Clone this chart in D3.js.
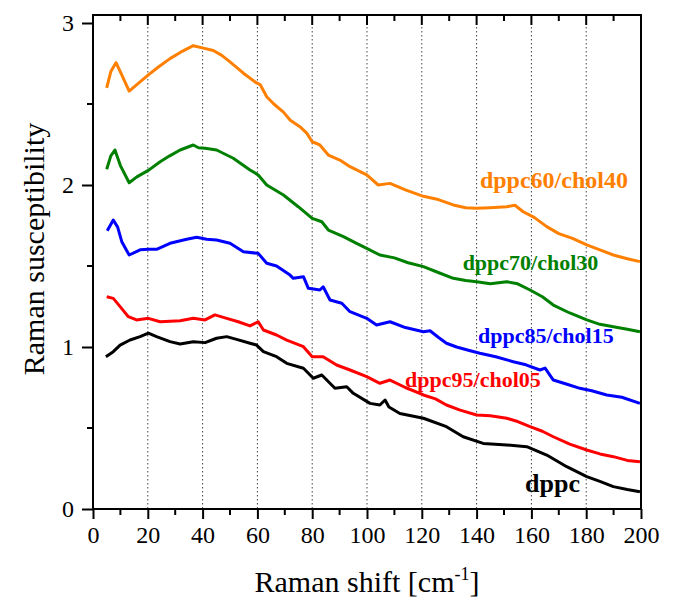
<!DOCTYPE html>
<html>
<head>
<meta charset="utf-8">
<script src="https://cdn.jsdelivr.net/npm/d3@7"></script>
<style>
  html, body { margin: 0; padding: 0; background: #fff; }
  svg { display: block; }
  text { font-family: "Liberation Serif", "Times New Roman", serif; }
</style>
</head>
<body>
<svg id="chart" width="674" height="601"></svg>
<script>
// ---------- data ----------
const xTicks = [0, 20, 40, 60, 80, 100, 120, 140, 160, 180, 200];
const xMinorTicks = [10, 30, 50, 70, 90, 110, 130, 150, 170, 190];
const yTicks = [0, 1, 2, 3];
const yMinorTicks = [0.5, 1.5, 2.5];

const seriesNames = ["dppc60/chol40", "dppc70/chol30", "dppc85/chol15", "dppc95/chol05", "dppc"];
const seriesColors = ["#FF8000", "#008000", "#0000FF", "#FF0000", "#000000"];

const shiftChol40 = [5, 6.5, 8.4, 10.5, 13.2, 16, 20.2, 24, 28.1, 32, 36.6, 40.3, 43.9, 47, 50, 54.9, 59.7, 61, 63.4, 66, 69.5, 72, 75.5, 78, 80, 82.8, 85.9, 90.1, 93.8, 99.9, 104.1, 108.4, 114, 120.6, 126, 131.5, 136, 140, 145, 151, 154, 157, 161, 165.6, 170, 175, 180.2, 185, 189.9, 195, 199.6];
const chiChol40 = [2.60, 2.70, 2.755, 2.68, 2.58, 2.62, 2.68, 2.73, 2.78, 2.82, 2.86, 2.845, 2.83, 2.80, 2.76, 2.69, 2.63, 2.62, 2.545, 2.50, 2.45, 2.40, 2.36, 2.32, 2.267, 2.247, 2.185, 2.154, 2.113, 2.062, 2.0, 2.01, 1.97, 1.93, 1.91, 1.877, 1.86, 1.856, 1.86, 1.866, 1.875, 1.835, 1.80, 1.743, 1.70, 1.67, 1.63, 1.60, 1.568, 1.545, 1.527];

const shiftChol30 = [5, 6.5, 8, 10, 13.2, 16, 20.2, 24.5, 28, 31.8, 36.6, 38.5, 40.9, 45.1, 51.2, 57.3, 60.3, 63.4, 69.5, 74.9, 80, 83.5, 85.9, 91.4, 96.2, 99.9, 104.7, 110, 115, 120.6, 126, 131.5, 136, 140, 145, 151, 155, 159.5, 164, 168, 174, 180.2, 185, 189.9, 195, 199.6];
const chiChol30 = [2.097, 2.18, 2.216, 2.12, 2.014, 2.05, 2.09, 2.144, 2.18, 2.216, 2.247, 2.23, 2.227, 2.216, 2.165, 2.093, 2.062, 2.0, 1.938, 1.866, 1.794, 1.773, 1.722, 1.681, 1.64, 1.609, 1.568, 1.55, 1.52, 1.496, 1.46, 1.424, 1.41, 1.403, 1.39, 1.403, 1.39, 1.352, 1.31, 1.259, 1.21, 1.167, 1.14, 1.125, 1.11, 1.094];

const shiftChol15 = [5.2, 7.4, 9, 10.5, 13.2, 17.2, 20.2, 23.2, 28.1, 34.2, 37.8, 41.5, 45.1, 50, 54.9, 60.3, 63.4, 67, 71.9, 73.1, 76.8, 78.6, 82.8, 84, 86.5, 90.8, 93.8, 99.9, 103.5, 108.4, 114, 120.6, 123, 126, 129, 132.7, 137, 141.2, 147, 153.4, 158, 163.1, 165, 168, 173, 177.7, 182, 187.5, 193, 199.6];
const chiChol15 = [1.718, 1.784, 1.74, 1.65, 1.568, 1.60, 1.603, 1.603, 1.64, 1.665, 1.677, 1.665, 1.66, 1.64, 1.588, 1.578, 1.517, 1.50, 1.444, 1.424, 1.434, 1.362, 1.352, 1.372, 1.29, 1.27, 1.218, 1.177, 1.136, 1.156, 1.12, 1.094, 1.10, 1.06, 1.023, 1.0, 0.98, 0.961, 0.94, 0.909, 0.89, 0.858, 0.87, 0.796, 0.77, 0.745, 0.73, 0.704, 0.69, 0.652];

const shiftChol05 = [5, 7.4, 9.9, 12.9, 15.9, 20.2, 24.5, 31.8, 36.6, 40.9, 44.5, 48.8, 53, 57.3, 60.3, 62.2, 67, 70.7, 76.8, 80, 84, 88.9, 93.8, 99.9, 104.7, 108.4, 114, 120.6, 125, 129, 134, 140, 145, 151, 155, 159.5, 164, 168, 174, 180.2, 185, 189.9, 195, 199.6];
const chiChol05 = [1.31, 1.30, 1.249, 1.187, 1.167, 1.177, 1.156, 1.162, 1.177, 1.167, 1.198, 1.177, 1.156, 1.13, 1.156, 1.105, 1.074, 1.043, 1.002, 0.94, 0.94, 0.889, 0.858, 0.817, 0.776, 0.796, 0.75, 0.704, 0.68, 0.642, 0.61, 0.58, 0.575, 0.56, 0.54, 0.508, 0.48, 0.446, 0.40, 0.364, 0.34, 0.323, 0.30, 0.292];

const shiftDppc = [4.7, 7.4, 9.9, 13.5, 17.2, 20.2, 23.2, 28.1, 31.8, 36.6, 40.9, 45.1, 48.8, 52.4, 57.3, 59.7, 62.2, 67, 70.7, 76.8, 80.4, 83.5, 88.3, 92.6, 95, 101.1, 104.7, 106.6, 108, 112, 120.6, 129, 135.1, 142.4, 151, 158.3, 165.6, 172.9, 180.2, 185, 189.9, 195, 199.6];
const chiDppc = [0.94, 0.971, 1.012, 1.043, 1.064, 1.085, 1.064, 1.033, 1.019, 1.033, 1.027, 1.054, 1.064, 1.047, 1.023, 1.012, 0.971, 0.94, 0.899, 0.869, 0.807, 0.827, 0.745, 0.755, 0.714, 0.652, 0.642, 0.673, 0.63, 0.59, 0.56, 0.508, 0.446, 0.405, 0.395, 0.385, 0.333, 0.261, 0.2, 0.17, 0.138, 0.12, 0.107];

const seriesX = [shiftChol40, shiftChol30, shiftChol15, shiftChol05, shiftDppc];
const seriesY = [chiChol40, chiChol30, chiChol15, chiChol05, chiDppc];

// ---------- layout ----------
const svg = d3.select("#chart");
const L = 93, R = 641, T = 15, B = 509;
const x = d3.scaleLinear().domain([0, 200]).range([L, R]);
const y = d3.scaleLinear().domain([0, 3]).range([B, 23]);

// grid (dotted verticals)
svg.append("g").selectAll("line")
  .data(xTicks.filter(v => v > 0 && v < 200))
  .join("line")
  .attr("x1", d => x(d)).attr("x2", d => x(d))
  .attr("y1", T).attr("y2", B)
  .attr("stroke", "#444").attr("stroke-width", 1)
  .attr("stroke-dasharray", "1.5,2.5");

// curves
const line = d3.line().x(d => x(d[0])).y(d => y(d[1])).curve(d3.curveLinear);
seriesNames.forEach((name, i) => {
  const pts = seriesX[i].map((v, j) => [v, seriesY[i][j]]);
  svg.append("path")
    .datum(pts)
    .attr("d", line)
    .attr("fill", "none")
    .attr("stroke", seriesColors[i])
    .attr("stroke-width", 3)
    .attr("stroke-linejoin", "round");
});

// frame
svg.append("rect").attr("x", L).attr("y", T).attr("width", R - L).attr("height", B - T)
  .attr("fill", "none").attr("stroke", "#000").attr("stroke-width", 2);

// bottom axis
const xAxis = d3.axisBottom(x).tickValues(xTicks).tickSize(10).tickPadding(7).tickFormat(d3.format("d"));
const gx = svg.append("g").attr("transform", `translate(0,${B})`).call(xAxis);
gx.select(".domain").remove();
gx.selectAll(".tick line").attr("stroke-width", 2);
gx.selectAll("text").attr("font-size", 24).attr("font-family", "Liberation Serif").attr("fill", "#000");
svg.append("g").selectAll("line").data(xMinorTicks).join("line")
  .attr("x1", d => x(d)).attr("x2", d => x(d)).attr("y1", B).attr("y2", B + 6)
  .attr("stroke", "#000").attr("stroke-width", 2);

// top axis (inward ticks)
svg.append("g").selectAll("line").data(xTicks).join("line")
  .attr("x1", d => x(d)).attr("x2", d => x(d)).attr("y1", T).attr("y2", T + 10)
  .attr("stroke", "#000").attr("stroke-width", 2);
svg.append("g").selectAll("line").data(xMinorTicks).join("line")
  .attr("x1", d => x(d)).attr("x2", d => x(d)).attr("y1", T).attr("y2", T + 6)
  .attr("stroke", "#000").attr("stroke-width", 2);

// left axis
const yAxis = d3.axisLeft(y).tickValues(yTicks).tickSize(11).tickPadding(8).tickFormat(d3.format("d"));
const gy = svg.append("g").attr("transform", `translate(${L},0)`).call(yAxis);
gy.select(".domain").remove();
gy.selectAll(".tick line").attr("stroke-width", 2);
gy.selectAll("text").attr("font-size", 24).attr("font-family", "Liberation Serif").attr("fill", "#000");
svg.append("g").selectAll("line").data(yMinorTicks).join("line")
  .attr("x1", L - 6).attr("x2", L).attr("y1", d => y(d)).attr("y2", d => y(d))
  .attr("stroke", "#000").attr("stroke-width", 2);

// axis titles
const xt = svg.append("text").attr("x", (L + R) / 2).attr("y", 592)
  .attr("text-anchor", "middle").attr("font-size", 30).attr("fill", "#000");
xt.append("tspan").text("Raman shift [cm");
xt.append("tspan").attr("font-size", 18).attr("dy", -12).text("-1");
xt.append("tspan").attr("dy", 12).text("]");

svg.append("text")
  .attr("transform", `translate(44,${(113 + 385) / 2}) rotate(-90)`)
  .attr("text-anchor", "middle").attr("font-size", 30).attr("fill", "#000")
  .text("Raman susceptibility");

// series labels
const labelSpecs = [
  { i: 0, lx: 141.2, ly: 1.98, size: 24 },
  { i: 1, lx: 134.9, ly: 1.475, size: 22 },
  { i: 2, lx: 140.5, ly: 1.025, size: 22 },
  { i: 3, lx: 113.9, ly: 0.755, size: 22 },
  { i: 4, lx: 157.7, ly: 0.107, size: 26 }
];
labelSpecs.forEach(s => {
  svg.append("text")
    .attr("x", x(s.lx)).attr("y", y(s.ly))
    .attr("font-size", s.size).attr("font-weight", "bold")
    .attr("fill", seriesColors[s.i])
    .text(seriesNames[s.i]);
});
</script>
</body>
</html>
